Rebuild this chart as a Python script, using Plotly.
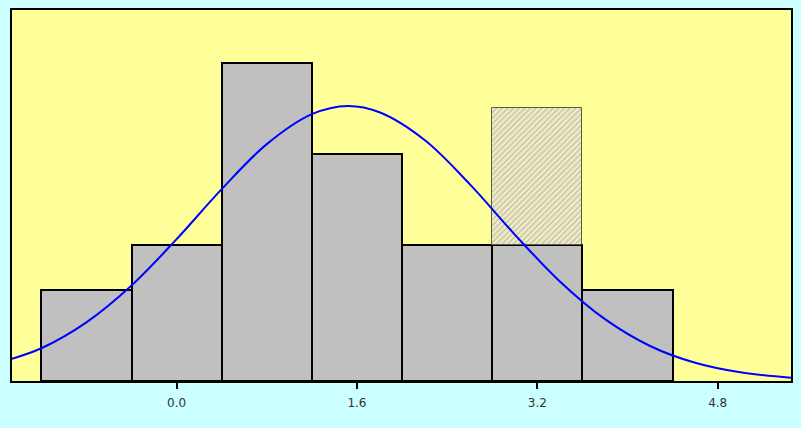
import plotly.graph_objects as go

# Histogram data
bin_centers = [-0.8, 0.0, 0.8, 1.6, 2.4, 3.2, 4.0]
counts = [2, 3, 7, 5, 3, 3, 2]
bin_width = 0.8

# Highlighted (hatched) extra portion on one bin
hatch_x = [3.2]
hatch_base = [3]
hatch_height = [3]

# Fitted normal curve
curve_x = [-1.46, -1.2, -0.8, -0.4, 0.0, 0.4, 0.8, 1.2, 1.52, 1.8,
           2.2, 2.6, 3.0, 3.4, 3.8, 4.2, 4.6, 5.0, 5.45]
curve_y = [0.49, 0.72, 1.29, 2.10, 3.12, 4.22, 5.21, 5.87, 6.05, 5.91,
           5.30, 4.33, 3.22, 2.19, 1.36, 0.77, 0.40, 0.19, 0.07]

tick_vals = [0.0, 1.6, 3.2, 4.8]
tick_text = ["0.0", "1.6", "3.2", "4.8"]

fig = go.Figure()

fig.add_trace(go.Bar(
    x=bin_centers, y=counts, width=bin_width,
    marker=dict(color="#c0c0c0", line=dict(color="#000000", width=2)),
    showlegend=False, hoverinfo="skip",
))

fig.add_trace(go.Bar(
    x=hatch_x, y=hatch_height, base=hatch_base, width=bin_width,
    marker=dict(
        color="#f4f0c8",
        line=dict(color="#5a5a48", width=1),
        pattern=dict(shape="/", size=4, solidity=0.45,
                     fgcolor="#a0a090", bgcolor="#f2eec8"),
    ),
    showlegend=False, hoverinfo="skip",
))

fig.add_trace(go.Scatter(
    x=curve_x, y=curve_y, mode="lines",
    line=dict(color="#0000ff", width=2, shape="spline", smoothing=1),
    showlegend=False, hoverinfo="skip",
))

fig.update_layout(
    width=801, height=428,
    margin=dict(l=12, r=8, t=9, b=47),
    paper_bgcolor="#ccffff",
    plot_bgcolor="#ffff99",
    barmode="overlay",
    bargap=0,
    font=dict(family="DejaVu Sans", size=12, color="#333333"),
)

fig.update_xaxes(
    range=[-1.46, 5.45],
    tickvals=tick_vals, ticktext=tick_text,
    ticks="outside", ticklen=6, tickwidth=2, tickcolor="#000000",
    ticklabelstandoff=4,
    showgrid=False, zeroline=False,
    showline=True, mirror=True, linecolor="#000000", linewidth=2,
    tickfont=dict(family="DejaVu Sans", size=12, color="#333333"),
)
fig.update_yaxes(
    range=[0, 8.16],
    showticklabels=False, ticks="",
    showgrid=False, zeroline=False,
    showline=True, mirror=True, linecolor="#000000", linewidth=2,
)

fig.write_html(
    "out.html",
    config={"displayModeBar": False},
    post_script="document.body.style.margin='0';document.body.style.background='#ccffff';",
)
